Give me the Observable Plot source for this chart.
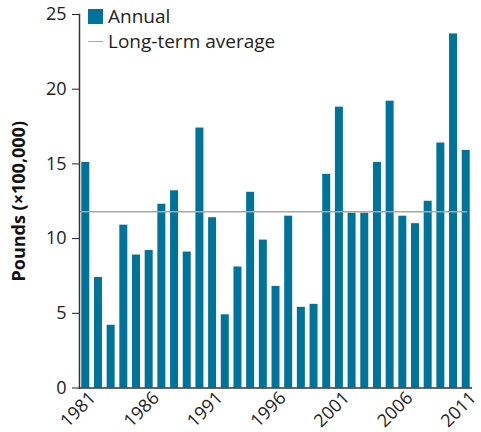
<!DOCTYPE html>
<html>
<head>
<meta charset="utf-8">
<script src="https://cdn.jsdelivr.net/npm/d3@7"></script>
<script src="https://cdn.jsdelivr.net/npm/@observablehq/plot@0.6"></script>
<style>
  html, body { margin: 0; padding: 0; background: #fff; }
  #wrap { position: relative; width: 481px; height: 432px; font-family: "Open Sans", sans-serif; }
  #legend { position: absolute; left: 88px; top: 4px; font-size: 19px; color: #222; line-height: 25px; }
  #legend .row { display: flex; align-items: center; white-space: nowrap; }
  #legend .sw { display: inline-block; width: 15px; margin-right: 5px; }
</style>
</head>
<body>
<div id="wrap">
  <div id="chart"></div>
  <div id="legend">
    <div class="row"><span class="sw" style="height:15px;background:#00739a"></span>Annual</div>
    <div class="row"><span class="sw" style="height:1.5px;background:#a8a8a8"></span>Long-term average</div>
  </div>
</div>
<script>
const years = d3.range(1981, 2012);
const annual = [15.1, 7.4, 4.2, 10.9, 8.9, 9.2, 12.3, 13.2, 9.1, 17.4,
                11.4, 4.9, 8.1, 13.1, 9.9, 6.8, 11.5, 5.4, 5.6, 14.3,
                18.8, 11.7, 11.7, 15.1, 19.2, 11.5, 11.0, 12.5, 16.4, 23.7, 15.9];
const longTermAverage = 11.8;
const yTicks = [0, 5, 10, 15, 20, 25];
const xTicks = [1981, 1986, 1991, 1996, 2001, 2006, 2011];
const yLabel = "Pounds (×100,000)";

const data = years.map((y, i) => ({year: y, value: annual[i]}));

const chart = Plot.plot({
  width: 481,
  height: 432,
  marginLeft: 79,
  marginRight: 9,
  marginTop: 14,
  marginBottom: 44.5,
  style: {fontFamily: "'Open Sans', sans-serif", fontSize: "18px", color: "#222", background: "#fff"},
  x: {type: "band", domain: years, paddingInner: 0.37, paddingOuter: 0.18, round: false},
  y: {domain: [0, 25]},
  marks: [
    Plot.barY(data, {x: "year", y: "value", fill: "#00739a"}),
    Plot.ruleY([longTermAverage], {stroke: "#a8a8a8", strokeWidth: 1.5, insetRight: 5}),
    Plot.axisY({ticks: yTicks, tickSize: 7, tickPadding: 6, tickFormat: d => String(d), fontSize: 18,
      label: yLabel, labelAnchor: "center", labelOffset: 67, labelArrow: "none"}),
    Plot.axisX({ticks: xTicks, tickSize: 0, tickPadding: 7, tickRotate: -45, tickFormat: d => String(d), fontSize: 18, label: null, dx: 7}),
    Plot.ruleY([0], {stroke: "#333", strokeWidth: 1.5}),
    Plot.frame({anchor: "left", stroke: "#333", strokeWidth: 1.5})
  ]
});
// bold y label, strip any arrow
chart.querySelectorAll("g[aria-label='y-axis label'] text").forEach(n => {
  n.textContent = n.textContent.replace(/[↑→↓←]/g, "").trim();
  n.style.fontWeight = "bold"; n.style.fill = "#111"; n.style.fontSize = "18px";
});
document.getElementById("chart").appendChild(chart);
</script>
</body>
</html>
